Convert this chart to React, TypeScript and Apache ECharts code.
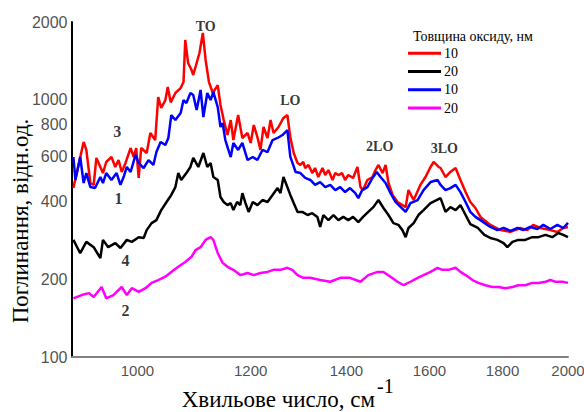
import React, { useEffect, useRef } from "react";
import * as echarts from "echarts";

// Curve 3 (red, 10 nm)
const redX = [902,917,921,927,932,936,942,946,951,959,965,970,975,981,989,994,998,1002,1006,1015,1021,1029,1034,1039,1046,1050,1055,1063,1072,1077,1080,1085,1091,1094,1105,1111,1116,1122,1129,1138,1143,1149,1156,1162,1167,1176,1184,1194,1200,1206,1213,1219,1225,1233,1239,1245,1255,1265,1273,1279,
  1286,1294,1300,1306,1310,1317,1325,1331,1338,1347,1353,1360,1369,1375,1382,1390,1397,1404,1415,1425,1432,1438,1448,1460,1467,1474,1484,1491,1498,1508,1520,
  1540,1547,1560,1577,1590,1603,1611,1624,1629,1642,1655,1669,1682,1696,1709,1723,
  1737,1765,1794,1823,1852,1873,1891,1913,1944,1966,1985,2000];
const redY = [453,684,637,474,466,593,547,518,572,598,547,582,523,567,648,598,648,496,648,620,741,696,1023,927,995,1118,975,1060,1108,1169,1703,1386,1302,1245,1516,1813,1424,1169,1060,1138,952,832,728,832,696,870,709,741,678,796,715,637,782,709,832,741,782,848,870,715,
  620,567,557,572,542,557,518,542,500,542,509,532,487,518,509,518,487,509,496,547,457,445,487,500,532,557,518,557,474,426,400,
  382,445,407,466,500,547,572,547,542,500,523,542,487,437,400,379,
  350,326,311,306,317,311,326,317,311,306,317,320];

// Curve 4 (black, 20 nm)
const blackX = [902,912,921,932,942,946,954,965,973,983,991,1002,1010,1015,1023,1031,1039,1048,1056,1063,1068,1073,1082,1089,1094,1103,1112,1119,1125,1130,1138,1143,1149,1156,1162,1167,1174,1180,1184,1190,1196,1204,1213,1223,1233,1243,1253,1259,1265,1273,
  1279,1286,1294,1304,1315,1325,1336,1342,1349,1360,1371,1382,1393,1404,1415,1427,1438,1450,1462,1474,1486,1498,1510,1522,
  1532,1540,1547,1560,1572,1585,1603,1629,1642,1655,1669,1682,1696,
  1709,1730,1748,1765,1785,1803,1814,1829,1846,1867,1888,1907,1929,1950,1969,1985,2000];
const blackY = [285,253,280,267,242,285,267,277,265,285,280,292,290,311,331,340,372,400,426,457,518,487,518,547,593,547,620,547,567,500,487,418,400,389,396,372,400,389,433,396,366,400,389,407,400,426,453,433,500,457,
  426,396,366,366,356,362,350,320,356,340,356,340,350,340,350,334,350,366,382,407,379,356,331,326,
  311,292,317,331,356,372,396,414,366,382,372,389,356,
  328,317,298,290,285,277,267,280,285,285,292,292,298,292,303,298,292];

// Curve 1 (blue, 10 nm)
const blueX = [902,905,912,917,921,927,934,942,946,951,959,967,973,978,983,989,997,1002,1010,1018,1026,1031,1038,1046,1051,1056,1063,1072,1077,1082,1089,1094,1100,1107,1112,1119,1125,1130,1138,1143,1147,1152,1162,1167,1176,1184,1194,1204,1213,1223,1233,1243,1253,1263,1273,
  1279,1290,1300,1310,1321,1331,1342,1353,1364,1375,1386,1397,1408,1420,1427,1436,1448,1460,1470,1479,1491,1503,1515,
  1540,1552,1570,1585,1603,1621,1629,1642,1655,1669,1682,1696,1709,1723,
  1737,1765,1785,1803,1823,1844,1861,1882,1904,1922,1944,1966,1985,2000];
const blueY = [598,487,598,474,518,457,453,500,474,518,487,518,466,500,547,523,609,567,542,582,557,625,684,666,709,870,832,886,995,969,1060,1041,910,1089,855,1060,995,1069,935,782,810,696,598,678,637,678,582,598,582,637,625,696,709,728,761,
  600,523,518,496,487,466,478,457,466,445,457,437,453,433,414,445,457,496,523,500,474,433,400,
  366,396,407,445,478,487,466,445,453,466,437,400,366,350,
  340,320,311,317,309,317,311,320,314,326,314,326,317,332];

// Curve 2 (magenta, 20 nm)
const magentaX = [902,914,925,932,944,951,962,975,983,991,1002,1013,1023,1034,1046,1056,1068,1080,1091,1098,1107,1116,1125,1130,1138,1147,1156,1167,1180,1194,1206,1219,1233,1245,1259,1273,1283,1294,1306,1321,1342,1364,1386,1408,1432,1450,1472,1486,1503,1520,1535,1552,1570,1585,1603,1621,1634,1650,1669,1682,1696,1715,1731,1751,1771,1788,1808,1829,1846,1867,1888,1907,1929,1944,1960,1982,2000];
const magentaY = [169,174,177,171,187,169,174,187,174,185,179,185,194,199,205,214,224,234,245,260,267,285,292,285,253,232,224,218,208,212,208,212,214,218,218,222,218,208,203,203,199,196,203,203,196,208,214,214,205,196,190,196,203,208,214,222,218,218,222,214,208,199,194,190,187,187,185,187,190,190,194,194,196,199,196,196,194];

const seriesNames = ["3", "4", "1", "2"];
const thicknessLabels = ["10", "20", "10", "20"];
const seriesColors = ["#ff0000", "#000000", "#0000ff", "#ff00ff"];

const xTicks = [1000, 1200, 1400, 1600, 1800, 2000];
const yTicks = [100, 200, 400, 600, 800, 1000, 2000];

const peakLabels = ["TO", "LO", "2LO", "3LO"];
const peakX = [1116, 1279, 1477, 1639];
const peakY = [1929, 987, 654, 648];

const curveLabels = ["3", "1", "4", "2"];
const curveLabelX = [968, 970, 981, 981];
const curveLabelY = [748, 411, 236, 152];

const SERIF = '"Liberation Serif", "Times New Roman", "DejaVu Serif", serif';
const SANS = '"Liberation Sans", Arial, sans-serif';

const zip = (xs: number[], ys: number[]) => xs.map((x, i) => [x, ys[i]]);

export default function App() {
  const ref = useRef<HTMLDivElement>(null);
  useEffect(() => {
    if (!ref.current) return;
    const chart = echarts.init(ref.current, undefined, { renderer: "svg" });
    const curves = [zip(redX, redY), zip(blackX, blackY), zip(blueX, blueY), zip(magentaX, magentaY)];
    const labelMap: Record<string, string> = {};
    seriesNames.forEach((n, i) => (labelMap[n] = thicknessLabels[i]));

    const lineSeries = curves.map((data, i) => ({
      name: seriesNames[i],
      type: "line",
      data,
      showSymbol: false,
      symbol: "none",
      lineStyle: { color: seriesColors[i], width: 2.5 },
      itemStyle: { color: seriesColors[i] },
      z: 3,
    }));

    const textSeries = (name: string, xs: number[], ys: number[], labels: string[], size: number) => ({
      name,
      type: "scatter",
      silent: true,
      clip: false,
      symbolSize: 1,
      itemStyle: { color: "rgba(0,0,0,0)" },
      data: zip(xs, ys),
      label: {
        show: true,
        position: "inside",
        formatter: (p: any) => labels[p.dataIndex],
        fontFamily: SERIF,
        fontWeight: "bold",
        fontSize: size,
        color: "#000",
      },
      z: 5,
    });

    chart.setOption({
      animation: false,
      backgroundColor: "#ffffff",
      grid: { left: 72, right: 16, top: 22, bottom: 55, containLabel: false },
      xAxis: {
        type: "log",
        logBase: 10,
        min: 900,
        max: 2000,
        axisLine: { show: true, lineStyle: { color: "#808080", width: 2 } },
        axisTick: { show: false },
        axisLabel: { show: false },
        splitLine: { show: false },
      },
      yAxis: {
        type: "log",
        logBase: 10,
        min: 100,
        max: 2000,
        axisLine: { show: true, lineStyle: { color: "#000000", width: 2 } },
        axisTick: { show: false },
        axisLabel: { show: false },
        splitLine: { show: false },
      },
      legend: {
        data: seriesNames,
        orient: "vertical",
        left: 408,
        top: 44,
        padding: 0,
        itemGap: 0,
        itemWidth: 33,
        itemHeight: 3,
        icon: "rect",
        formatter: (name: string) => labelMap[name],
        textStyle: { fontFamily: SERIF, fontSize: 14, color: "#000", lineHeight: 18.3, padding: [0, 0, 0, -2] },
      },
      graphic: [
        {
          type: "text",
          x: 20,
          y: 221,
          rotation: Math.PI / 2,
          style: {
            text: "Поглинання, відн.од.",
            font: `23px ${SERIF}`,
            fill: "#000",
            align: "center",
            verticalAlign: "middle",
            textAlign: "center",
            textVerticalAlign: "middle",
          },
        },
        {
          type: "text",
          x: 375,
          y: 399,
          style: {
            text: "Хвильове число, см",
            font: `23px ${SERIF}`,
            fill: "#000",
            align: "right",
            verticalAlign: "middle",
            textAlign: "right",
            textVerticalAlign: "middle",
          },
        },
        {
          type: "text",
          x: 377,
          y: 386,
          style: {
            text: "-1",
            font: `20px ${SERIF}`,
            fill: "#000",
            align: "left",
            verticalAlign: "middle",
            textAlign: "left",
            textVerticalAlign: "middle",
          },
        },
        {
          type: "text",
          x: 413,
          y: 36,
          style: {
            text: "Товщина оксиду, нм",
            font: `14px ${SERIF}`,
            fill: "#000",
            align: "left",
            verticalAlign: "middle",
            textAlign: "left",
            textVerticalAlign: "middle",
          },
        },
      ],
      series: [
        ...lineSeries,
        {
          name: "yTicks",
          type: "scatter",
          silent: true,
          clip: false,
          symbolSize: 1,
          itemStyle: { color: "rgba(0,0,0,0)" },
          data: yTicks.map((v) => [900, v]),
          label: {
            show: true,
            position: "left",
            distance: 4,
            formatter: (p: any) => String(yTicks[p.dataIndex]),
            fontFamily: SANS,
            fontSize: 16,
            color: "#222",
          },
        },
        {
          name: "xTicks",
          type: "scatter",
          silent: true,
          clip: false,
          symbolSize: 1,
          itemStyle: { color: "rgba(0,0,0,0)" },
          data: xTicks.map((v) => [v, 100]),
          label: {
            show: true,
            position: "bottom",
            distance: 5,
            formatter: (p: any) => String(xTicks[p.dataIndex]),
            fontFamily: SANS,
            fontSize: 15,
            color: "#222",
          },
        },
        textSeries("peaks", peakX, peakY, peakLabels, 14),
        textSeries("curveNumbers", curveLabelX, curveLabelY, curveLabels, 16),
      ],
    });
    return () => chart.dispose();
  }, []);
  return (
    <div
      ref={ref}
      style={{ position: "fixed", left: 0, top: 0, width: 584, height: 412, background: "#fff" }}
    />
  );
}
